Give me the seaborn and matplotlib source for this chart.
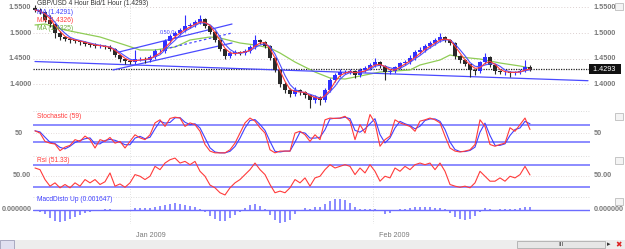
import numpy as np
import pandas as pd
import matplotlib
matplotlib.use("Agg")
import matplotlib.pyplot as plt
import matplotlib.transforms as mtransforms
from matplotlib.patches import Rectangle
import seaborn as sns

# ---------------- data ----------------
first_open = 1.5490
close = [1.5451, 1.5412, 1.5255, 1.5176, 1.5000, 1.4922, 1.4882, 1.4863, 1.4843, 1.4824,
         1.4784, 1.4765, 1.4745, 1.4745, 1.4725, 1.4686, 1.4569, 1.4490, 1.4451, 1.4431,
         1.4490, 1.4490, 1.4471, 1.4529, 1.4647, 1.4647, 1.4843, 1.4941, 1.5000, 1.5059,
         1.5137, 1.5157, 1.5216, 1.5275, 1.5137, 1.5020, 1.4863, 1.4686, 1.4549, 1.4608,
         1.4627, 1.4608, 1.4647, 1.4725, 1.4863, 1.4824, 1.4745, 1.4510, 1.4275, 1.4000,
         1.3882, 1.3804, 1.3882, 1.3843, 1.3784, 1.3686, 1.3745, 1.3686, 1.3882, 1.4078,
         1.4176, 1.4235, 1.4235, 1.4255, 1.4176, 1.4275, 1.4314, 1.4373, 1.4431, 1.4353,
         1.4235, 1.4255, 1.4333, 1.4412, 1.4431, 1.4510, 1.4627, 1.4667, 1.4745, 1.4804,
         1.4863, 1.4922, 1.4863, 1.4804, 1.4549, 1.4471, 1.4392, 1.4275, 1.4255, 1.4431,
         1.4529, 1.4373, 1.4255, 1.4235, 1.4235, 1.4216, 1.4235, 1.4255, 1.4333, 1.4293]
high = [1.5540, 1.5490, 1.5430, 1.5353, 1.5200, 1.5030, 1.4950, 1.4910, 1.4890, 1.4870,
        1.4850, 1.4810, 1.4800, 1.4780, 1.4770, 1.4765, 1.4700, 1.4590, 1.4510, 1.4480,
        1.4667, 1.4530, 1.4520, 1.4560, 1.4680, 1.4690, 1.4880, 1.4980, 1.5040, 1.5100,
        1.5353, 1.5200, 1.5260, 1.5353, 1.5290, 1.5160, 1.5040, 1.4880, 1.4700, 1.4640,
        1.4660, 1.4650, 1.4690, 1.4770, 1.4961, 1.4890, 1.4850, 1.4760, 1.4530, 1.4290,
        1.4040, 1.3920, 1.3950, 1.3910, 1.3870, 1.3800, 1.3790, 1.3770, 1.3920, 1.4120,
        1.4220, 1.4290, 1.4270, 1.4300, 1.4280, 1.4310, 1.4360, 1.4420, 1.4510, 1.4460,
        1.4370, 1.4290, 1.4360, 1.4440, 1.4470, 1.4560, 1.4660, 1.4720, 1.4780, 1.4850,
        1.4900, 1.5000, 1.4950, 1.4890, 1.4820, 1.4570, 1.4490, 1.4400, 1.4300, 1.4460,
        1.4608, 1.4550, 1.4390, 1.4280, 1.4270, 1.4260, 1.4260, 1.4290, 1.4471, 1.4370]
low = [1.5420, 1.5370, 1.5210, 1.5120, 1.4900, 1.4870, 1.4840, 1.4810, 1.4800, 1.4770,
       1.4740, 1.4720, 1.4700, 1.4710, 1.4680, 1.4640, 1.4520, 1.4440, 1.4400, 1.4390,
       1.4400, 1.4450, 1.4420, 1.4430, 1.4500, 1.4600, 1.4610, 1.4800, 1.4900, 1.4960,
       1.5020, 1.5090, 1.5120, 1.5180, 1.5100, 1.4980, 1.4820, 1.4640, 1.4500, 1.4510,
       1.4570, 1.4560, 1.4570, 1.4610, 1.4690, 1.4780, 1.4700, 1.4470, 1.4230, 1.3950,
       1.3830, 1.3750, 1.3760, 1.3790, 1.3720, 1.3529, 1.3630, 1.3588, 1.3650, 1.3840,
       1.4040, 1.4130, 1.4190, 1.4200, 1.4120, 1.4140, 1.4240, 1.4280, 1.4340, 1.4310,
       1.4078, 1.4190, 1.4220, 1.4300, 1.4370, 1.4400, 1.4470, 1.4590, 1.4630, 1.4700,
       1.4760, 1.4830, 1.4820, 1.4760, 1.4500, 1.4420, 1.4350, 1.4137, 1.4180, 1.4220,
       1.4390, 1.4330, 1.4200, 1.4190, 1.4180, 1.4137, 1.4180, 1.4200, 1.4230, 1.4260]

green_idx = [0, 2, 6, 13, 18, 21, 24, 28, 31, 35, 37, 41, 44, 47, 49, 52, 56, 59,
             62, 66, 69, 75, 77, 81, 83, 85, 89, 93, 97, 99]
green_ma = [1.5157, 1.5176, 1.5059, 1.4922, 1.4765, 1.4667, 1.4667, 1.4725, 1.4863,
            1.4922, 1.4902, 1.4804, 1.4765, 1.4706, 1.4608, 1.4431, 1.4235, 1.4118,
            1.4098, 1.4176, 1.4235, 1.4275, 1.4373, 1.4471, 1.4569, 1.4529, 1.4490,
            1.4412, 1.4353, 1.4314]

stoch_k = [56, 51, 32, 28, 26, 11, 19, 23, 36, 32, 44, 36, 17, 36, 32, 41, 28, 32, 17, 32,
           47, 40, 36, 47, 74, 81, 66, 84, 87, 85, 66, 74, 70, 55, 25, 10, 6, 6, 6, 13,
           28, 51, 74, 85, 78, 63, 51, 13, 6, 10, 10, 10, 51, 55, 47, 32, 47, 36, 81, 85,
           84, 85, 89, 78, 36, 70, 51, 93, 74, 21, 36, 44, 81, 74, 70, 66, 55, 78, 81, 85,
           81, 74, 44, 17, 10, 8, 10, 13, 25, 81, 66, 25, 21, 25, 28, 63, 55, 70, 85, 59]

rsi = [64, 61, 43, 31, 37, 28, 34, 28, 37, 31, 43, 37, 43, 34, 39, 55, 31, 35, 29, 37,
       52, 49, 43, 49, 67, 61, 73, 79, 82, 73, 76, 70, 76, 58, 49, 33, 28, 19, 15, 28,
       37, 43, 52, 61, 73, 61, 52, 34, 19, 22, 19, 28, 43, 37, 46, 31, 46, 49, 61, 70,
       64, 67, 70, 67, 52, 64, 55, 70, 58, 40, 49, 46, 64, 58, 67, 61, 70, 73, 70, 73,
       61, 73, 58, 34, 31, 29, 31, 28, 37, 58, 49, 40, 40, 46, 40, 49, 46, 52, 67, 51.33]

macd_hist = [-0.0006, -0.0011, -0.0022, -0.0044, -0.0061, -0.0066, -0.0061, -0.0050, -0.0039, -0.0028,
             -0.0017, -0.0011, -0.0006, -0.0006, 0.0003, 0.0006, -0.0006, -0.0006, -0.0006, 0.0000,
             0.0011, 0.0011, 0.0011, 0.0011, 0.0017, 0.0022, 0.0028, 0.0033, 0.0039, 0.0033,
             0.0028, 0.0022, 0.0017, 0.0006, -0.0011, -0.0033, -0.0050, -0.0061, -0.0061, -0.0044,
             -0.0028, -0.0011, 0.0011, 0.0028, 0.0033, 0.0022, 0.0006, -0.0028, -0.0055, -0.0072,
             -0.0066, -0.0055, -0.0022, -0.0006, 0.0011, 0.0006, 0.0017, 0.0017, 0.0033, 0.0050,
             0.0061, 0.0061, 0.0055, 0.0039, 0.0017, 0.0006, 0.0003, 0.0006, 0.0006, -0.0006,
             -0.0022, -0.0017, -0.0006, 0.0006, 0.0006, 0.0011, 0.0017, 0.0017, 0.0017, 0.0017,
             0.0011, 0.0011, 0.0006, -0.0017, -0.0039, -0.0050, -0.0055, -0.0050, -0.0033, -0.0011,
             0.0011, 0.0006, -0.0006, 0.0003, 0.0006, 0.0006, 0.0006, 0.0011, 0.0017, 0.0016]

trend_x0 = [0, 15.6, 16.0, 26.0]
trend_y0 = [1.4441, 1.4275, 1.4608, 1.4686]
trend_x1 = [110.6, 39.4, 39.4, 39.4]
trend_y1 = [1.4065, 1.4804, 1.5176, 1.5000]

last_price = 1.4293
price_ticks = [1.55, 1.50, 1.45, 1.40]
price_tick_labels = ["1.5500", "1.5000", "1.4500", "1.4000"]
date_labels = ["Jan 2009", "Feb 2009"]
date_pos = [19, 67.6]

title_text = "GBP/USD 4 Hour Bid/1 Hour (1.4293)"
ma_labels = ["MA (1.4291)", "MA (1.4326)", "MA (1.4325)"]
stoch_label = "Stochastic (59)"
rsi_label = "Rsi (51.33)"
macd_label = "MacdDisto Up (0.001647)"

# ---------------- style ----------------
sns.set_theme(style="white")
plt.rcParams['font.family'] = ['Liberation Sans', 'DejaVu Sans']

BLUE = '#3030ff'
CANDLE_DN = '#2a2a2a'
RED = '#ff3b3b'
GREEN = '#8fcc55'
LEVEL = '#6c6cff'
GRID = '#dcd0d0'
LBL = '#7a7a7a'

W, H = 625, 249
fig = plt.figure(figsize=(W / 100, H / 100), dpi=100)
fig.patch.set_facecolor('white')

X0, X1 = 33, 590


def add_panel(ytop, ybot):
    ax = fig.add_axes([X0 / W, 1 - ybot / H, (X1 - X0) / W, (ybot - ytop) / H])
    ax.set_facecolor('none')
    for s in ax.spines.values():
        s.set_visible(False)
    ax.set_xticks([])
    ax.set_yticks([])
    ax.set_xlim(-0.4, 111)
    return ax


ax_p = add_panel(0, 111)
ax_s = add_panel(111, 155.5)
ax_r = add_panel(155.5, 196.5)
ax_m = add_panel(196.5, 223.5)

idx = np.arange(len(close))
close_a = np.array(close)
opens = np.r_[first_open, close_a[:-1]]
up = close_a >= opens

# ---------------- price panel ----------------
ax_p.set_ylim(1.3471, 1.5647)
for t in price_ticks:
    ax_p.axhline(t, color=GRID, lw=0.7, ls=(0, (1, 2)), zorder=0)
for d in date_pos:
    for a in (ax_p, ax_s, ax_r, ax_m):
        a.axvline(d, color='#d8d8d8', lw=0.6, ls=(0, (1, 2)), zorder=0)

sns.lineplot(x=green_idx, y=green_ma, ax=ax_p, color=GREEN, lw=0.9, zorder=2)

cols = np.where(up, BLUE, CANDLE_DN)
ax_p.vlines(idx, low, high, colors=cols, lw=0.8, zorder=3)
ax_p.bar(idx, np.maximum(np.abs(close_a - opens), 0.0010), bottom=np.minimum(opens, close_a),
         width=0.62, color=cols, lw=0, zorder=3)

red_ma = pd.Series(close).rolling(3, min_periods=1).mean()
blue_ma = pd.Series(close).rolling(4, min_periods=1).mean()
sns.lineplot(x=idx, y=blue_ma.values, ax=ax_p, color='#5050ff', lw=0.8, zorder=4)
sns.lineplot(x=idx, y=red_ma.values, ax=ax_p, color=RED, lw=0.8, zorder=5)

styles = ['-', '-', '-', (0, (2, 2))]
for x0, y0, x1, y1, st in zip(trend_x0, trend_y0, trend_x1, trend_y1, styles):
    ax_p.plot([x0, x1], [y0, y1], color='#4a4aff', lw=0.9, ls=st, zorder=2)
ax_p.text(25.0, 1.4990, "0.50.0", color='#4a4aff', fontsize=4, zorder=6)

ax_p.axhline(last_price, color='#222222', lw=0.9, ls=(0, (1, 1)), zorder=1)

tr_p_left = mtransforms.blended_transform_factory(ax_p.transAxes, ax_p.transData)
for t, lab in zip(price_ticks, price_tick_labels):
    ax_p.text(-0.003, t, lab, transform=tr_p_left, ha='right', va='center', fontsize=5.2,
              color=LBL, fontweight='bold')
    ax_p.text(1.006, t, lab, transform=tr_p_left, ha='left', va='center', fontsize=5.2,
              color=LBL, fontweight='bold', clip_on=False)
ax_p.text(1.002, last_price, " " + "{:.4f}".format(last_price) + "  ", transform=tr_p_left,
          ha='left', va='center', fontsize=5.2, color='white', clip_on=False,
          bbox=dict(boxstyle='square,pad=0.25', fc='#111111', ec='none'), zorder=10)

ax_p.text(0.008, 0.965, title_text, transform=ax_p.transAxes, fontsize=4.8, color='#333333',
          va='center', zorder=7)
ma_cols = ['#4040ff', RED, '#70b040']
for k, (lab, c) in enumerate(zip(ma_labels, ma_cols)):
    ax_p.text(0.008, 0.885 - 0.072 * k, lab, transform=ax_p.transAxes, fontsize=4.8, color=c,
              va='center', zorder=7)

# ---------------- stochastic ----------------
ax_s.set_ylim(0, 101)
ax_s.axhline(101, color='#d0d0d0', lw=0.6, ls=(0, (1, 2)))
ax_s.axhline(50, color=GRID, lw=0.6, ls=(0, (1, 2)))
for lv in (70, 30):
    ax_s.axhline(lv, color=LEVEL, lw=1.1, zorder=1)
stoch_d = pd.Series(stoch_k).rolling(2, min_periods=1).mean()
sns.lineplot(x=idx, y=stoch_d.values, ax=ax_s, color='#4040ff', lw=0.8, zorder=3)
sns.lineplot(x=idx, y=stoch_k, ax=ax_s, color=RED, lw=0.8, zorder=4)
ax_s.text(0.008, 0.88, stoch_label, transform=ax_s.transAxes, fontsize=4.8, color=RED, va='center')
tr_s = mtransforms.blended_transform_factory(ax_s.transAxes, ax_s.transData)
ax_s.text(-0.018, 50, "50", transform=tr_s, ha='right', va='center', fontsize=5.2, color=LBL,
          fontweight='bold')
ax_s.text(1.006, 50, "50", transform=tr_s, ha='left', va='center', fontsize=5.2, color=LBL,
          fontweight='bold')

# ---------------- RSI ----------------
ax_r.set_ylim(12.2, 86.7)
ax_r.axhline(86.7, color='#d0d0d0', lw=0.6, ls=(0, (1, 2)))
ax_r.axhline(50, color=GRID, lw=0.6, ls=(0, (1, 2)))
for lv in (70, 30):
    ax_r.axhline(lv, color=LEVEL, lw=1.1, zorder=1)
sns.lineplot(x=idx, y=rsi, ax=ax_r, color=RED, lw=0.8, zorder=3)
ax_r.text(0.008, 0.87, rsi_label, transform=ax_r.transAxes, fontsize=4.8, color=RED, va='center')
tr_r = mtransforms.blended_transform_factory(ax_r.transAxes, ax_r.transData)
ax_r.text(-0.003, 50, "50.00", transform=tr_r, ha='right', va='center', fontsize=5.2, color=LBL,
          fontweight='bold')
ax_r.text(1.006, 50, "50.00", transform=tr_r, ha='left', va='center', fontsize=5.2, color=LBL,
          fontweight='bold')

# ---------------- MACD ----------------
ax_m.set_ylim(-0.00759, 0.00726)
ax_m.axhline(0.00726, color='#d0d0d0', lw=0.6, ls=(0, (1, 2)))
ax_m.axhline(-0.00759, color='#d0d0d0', lw=0.6, ls=(0, (1, 2)))
ax_m.vlines(idx, 0, macd_hist, colors='#6a6aff', lw=1.1, zorder=2)
ax_m.axhline(0, color=LEVEL, lw=1.0, zorder=3)
ax_m.text(0.008, 0.88, macd_label, transform=ax_m.transAxes, fontsize=4.8, color='#4040ff',
          va='center')
tr_m = mtransforms.blended_transform_factory(ax_m.transAxes, ax_m.transData)
ax_m.text(-0.003, 0, "0.000000", transform=tr_m, ha='right', va='center', fontsize=5.2, color=LBL,
          fontweight='bold')
ax_m.text(1.006, 0, "0.000000", transform=tr_m, ha='left', va='center', fontsize=5.2, color=LBL,
          fontweight='bold')

tr_d = mtransforms.blended_transform_factory(ax_m.transData, ax_m.transAxes)
for d, lab in zip(date_pos, date_labels):
    ax_m.text(d + 1.2, -0.45, lab, transform=tr_d, ha='left', va='center', fontsize=5.2,
              color=LBL, clip_on=False)

# right edge vertical dotted line
for a in (ax_p, ax_s, ax_r, ax_m):
    a.axvline(111, color='#d0d0d0', lw=0.6, ls=(0, (1, 2)))

# ---------------- chrome: small boxes and scroll bar ----------------
def px_rect(x, y, w, h, **kw):
    fig.patches.append(Rectangle((x / W, 1 - (y + h) / H), w / W, h / H,
                                 transform=fig.transFigure, figure=fig, **kw))

for yb in (3, 113, 157, 198):
    px_rect(615, yb, 8, 7, fc='#f4f4f4', ec='#b0b0b0', lw=0.5)

px_rect(0, 240, W, 9, fc='#ededed', ec='none')
px_rect(0, 240, 14, 9, fc='#e0e0f0', ec='#9090b0', lw=0.5)
px_rect(517, 241, 88, 7, fc='#e6e6e6', ec='#a0a0a0', lw=0.5)
fig.text(561 / W, 1 - 244.5 / H, "III", fontsize=4.5, color='#333333', ha='center', va='center')
fig.text(609 / W, 1 - 244.5 / H, "\u25b8", fontsize=5, color='#333333', ha='center', va='center')
fig.text(619 / W, 1 - 244.5 / H, "\u2716", fontsize=5.5, color='#dd2222', ha='center', va='center',
         family=['DejaVu Sans'])

fig.savefig("out.png", dpi=100, facecolor='white')
